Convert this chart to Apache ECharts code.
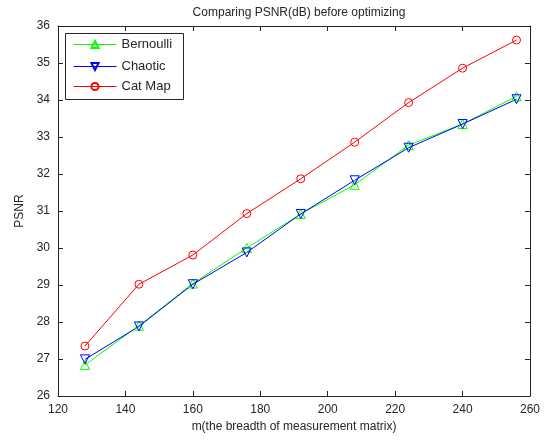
<!DOCTYPE html>
<html>
<head>
<meta charset="utf-8">
<script src="https://cdn.jsdelivr.net/npm/echarts@6/dist/echarts.min.js"></script>
<style>html,body{margin:0;padding:0;background:#fff;}#c{width:553px;height:441px;}</style>
</head>
<body>
<div id="c"></div>
<script>
const mValues = [128, 144, 160, 176, 192, 208, 224, 240, 256];
const bernoulli = [26.84, 27.9, 29.04, 30.0, 30.92, 31.71, 32.78, 33.35, 34.1];
const chaotic = [26.99, 27.88, 29.02, 29.88, 30.92, 31.83, 32.71, 33.35, 34.02];
const catMap = [27.35, 29.02, 29.81, 30.93, 31.87, 32.86, 33.93, 34.86, 35.62];
const seriesNames = ['Bernoulli', 'Chaotic', 'Cat Map'];
const seriesColors = ['#00ff00', '#0000ff', '#ff0000'];

const font = 'Liberation Sans, Arial, sans-serif';
const axisCol = '#262626';
function pairs(vals){ return mValues.map((m,i)=>[m, vals[i]]); }

const chart = echarts.init(document.getElementById('c'), null, {renderer:'canvas'});
const baseAxis = {
  axisLine:{show:true,onZero:false,lineStyle:{color:axisCol,width:1}},
  axisTick:{show:true,inside:true,length:5,lineStyle:{color:axisCol}},
  splitLine:{show:false},
  axisLabel:{color:axisCol,fontFamily:font,fontSize:12}
};
function mk(name, vals, color, symbol, size, rot){
  return {name:name,type:'line',data:pairs(vals),symbol:symbol,symbolSize:size,symbolRotate:rot||0,
    lineStyle:{color:color,width:1},
    itemStyle:{color:'rgba(255,255,255,0)',borderColor:color,borderWidth:1}};
}
const legendTops = [38, 60, 80];
chart.setOption({
  animation:false,
  backgroundColor:'#fff',
  title:{text:'Comparing PSNR(dB) before optimizing',left:294,top:2,textAlign:'center',
    textStyle:{fontFamily:font,fontSize:12,fontWeight:'normal',color:axisCol}},
  grid:{left:58,right:23,top:26,bottom:45},
  graphic:[{type:'rect',z:3,shape:{x:65.5,y:33.5,width:118,height:66},
    style:{fill:'#fff',stroke:axisCol,lineWidth:1}}],
  legend:seriesNames.map((n,i)=>({
    left:73,top:legendTops[i],padding:0,itemWidth:43,itemHeight:9,itemGap:5,
    selectedMode:false,
    lineStyle:{color:seriesColors[i],width:1,opacity:1},
    textStyle:{fontFamily:font,fontSize:13,color:axisCol},
    data:[n]
  })),
  xAxis:[
    Object.assign({},baseAxis,{type:'value',min:120,max:260,interval:20,position:'bottom',
      name:'m(the breadth of measurement matrix)',nameLocation:'middle',nameGap:22,
      nameTextStyle:{fontFamily:font,fontSize:12,color:axisCol},
      axisLabel:{color:axisCol,fontFamily:font,fontSize:12,margin:8}}),
    Object.assign({},baseAxis,{type:'value',min:120,max:260,interval:20,position:'top',
      axisLabel:{show:false}})
  ],
  yAxis:[
    Object.assign({},baseAxis,{type:'value',min:26,max:36,interval:1,position:'left',
      name:'PSNR',nameLocation:'middle',nameGap:32,nameRotate:90,
      nameTextStyle:{fontFamily:font,fontSize:12,color:axisCol},
      axisLabel:{color:axisCol,fontFamily:font,fontSize:12,margin:8}}),
    Object.assign({},baseAxis,{type:'value',min:26,max:36,interval:1,position:'right',
      axisLabel:{show:false}})
  ],
  series:[
    mk(seriesNames[0], bernoulli, seriesColors[0], 'triangle', 9, 0),
    mk(seriesNames[1], chaotic, seriesColors[1], 'triangle', 9, 180),
    mk(seriesNames[2], catMap, seriesColors[2], 'circle', 8, 0)
  ]
});
</script>
</body>
</html>
